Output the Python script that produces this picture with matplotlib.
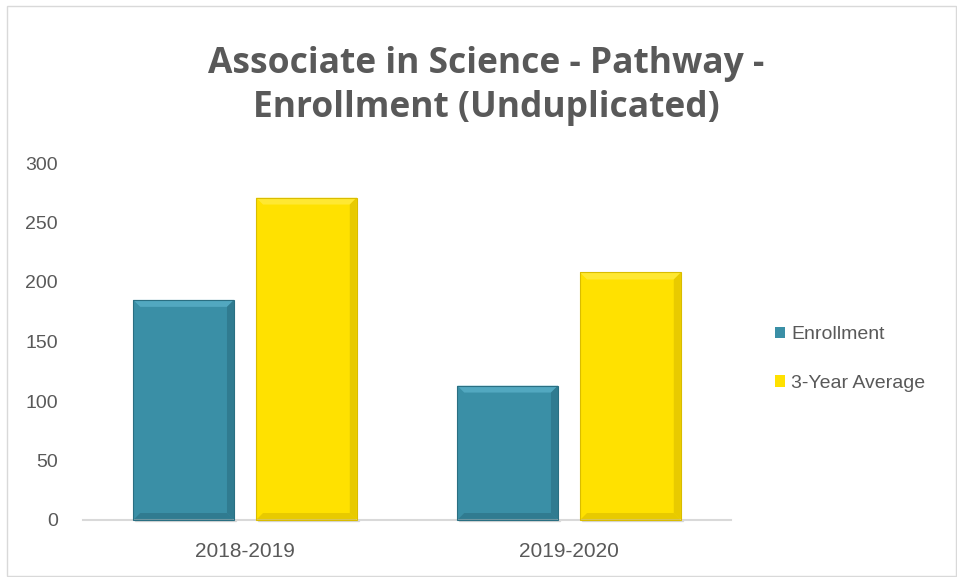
import numpy as np
import matplotlib.pyplot as plt
from matplotlib.patches import Polygon, Rectangle

# data
categories = ["2018-2019", "2019-2020"]
enrollment = [185, 113]
three_year_avg = [271, 208]
series_names = ["Enrollment", "3-Year Average"]
y_ticks = [0, 50, 100, 150, 200, 250, 300]

title = "Associate in Science - Pathway -\nEnrollment (Unduplicated)"

# colours: body, light bevel, dark bevel
teal = ("#3A8FA6", "#63B9D2", "#2A6F82")
yellow = ("#FFE100", "#FFEE55", "#D9BC00")
text_col = "#595959"

plt.rcParams['font.family'] = ['Liberation Sans', 'DejaVu Sans']

fig = plt.figure(figsize=(9.57, 5.77), dpi=100)
ax = fig.add_axes([83 / 957, 57 / 577, 648 / 957, 357 / 577])

x = np.arange(len(categories))
w = 0.311
off = w / 2 + 0.034
bars1 = ax.bar(x - off, enrollment, w, color=teal[0], label=series_names[0], zorder=2)
bars2 = ax.bar(x + off, three_year_avg, w, color=yellow[0], label=series_names[1], zorder=2)

ax.set_xlim(-0.5, len(categories) - 0.5)
ax.set_ylim(0, 300)
ax.set_yticks(y_ticks)
ax.set_xticks(x)
ax.set_xticklabels(categories)
ax.tick_params(axis='both', length=0, colors=text_col)
ax.tick_params(axis='y', labelsize=14, pad=18)
ax.tick_params(axis='x', labelsize=15, pad=16)
for s in ['top', 'right', 'left']:
    ax.spines[s].set_visible(False)
ax.spines['bottom'].set_color('#D9D9D9')
ax.spines['bottom'].set_linewidth(1.5)
ax.spines['bottom'].set_zorder(3)

# bevel effect on every bar, built from the bar geometry
fig.canvas.draw()
inv = fig.transFigure.inverted()
bev = 7
for bars, cols in ((bars1, teal), (bars2, yellow)):
    for b in bars:
        (x0, y0), (x1, y1) = b.get_window_extent().get_points()
        sh = Rectangle(inv.transform((x0 + 2, y0 - 1)), *(inv.transform((x1 + 2, y1 - 1)) - inv.transform((x0 + 2, y0 - 1))),
                       transform=fig.transFigure, color='#BFBFBF', alpha=0.5, zorder=0)
        fig.add_artist(sh)
        pieces = [
            ([(x0, y1), (x1, y1), (x1 - bev, y1 - bev), (x0 + bev, y1 - bev)], cols[1]),
            ([(x1, y0), (x1, y1), (x1 - bev, y1 - bev), (x1 - bev, y0 + bev)], cols[2]),
            ([(x0, y0), (x1, y0), (x1 - bev, y0 + bev), (x0 + bev, y0 + bev)], cols[2]),
        ]
        for pts, c in pieces:
            p = Polygon(inv.transform(pts), closed=True, transform=fig.transFigure,
                        facecolor=c, edgecolor='none', alpha=0.6, zorder=3)
            fig.add_artist(p)
        edge = Rectangle(inv.transform((x0, y0)), *(inv.transform((x1, y1)) - inv.transform((x0, y0))),
                         transform=fig.transFigure, fill=False, edgecolor=cols[2], lw=0.8, zorder=4)
        fig.add_artist(edge)

leg = fig.legend(loc='center left', bbox_to_anchor=(757 / 957, 1 - 359 / 577), frameon=False,
                 fontsize=14, handlelength=0.55, handleheight=0.55, handletextpad=0.3,
                 labelspacing=1.6, labelcolor=text_col)

fig.text(486 / 957, 1 - 86 / 577, title, ha='center', va='center', fontsize=25.5,
         fontweight='bold', color=text_col, linespacing=1.26, family=['Open Sans', 'DejaVu Sans'])

frame = Rectangle((7 / 957, 1 / 577), 949 / 957, 570 / 577, transform=fig.transFigure,
                  fill=False, edgecolor='#D9D9D9', lw=1, zorder=0)
fig.add_artist(frame)

fig.savefig("out.png", dpi=100, facecolor='white')
